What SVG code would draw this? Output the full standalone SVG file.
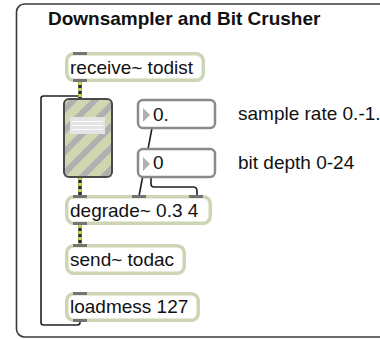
<svg xmlns="http://www.w3.org/2000/svg" width="380" height="339" viewBox="0 0 380 339">
<defs>
<style>
.obj{fill:#fff;stroke:#ccd6b4;stroke-width:3.5}
.num{fill:#fff;stroke:#8a8a8a;stroke-width:2.5}
.t{font-family:"Liberation Sans",Arial,sans-serif;font-size:19px;fill:#111}
.tab{fill:#747474}
.ctl{fill:none;stroke:#222;stroke-width:1.6}
.sig{fill:none;stroke:#2a2a2a;stroke-width:3.5}
.sigd{fill:none;stroke:#b5df45;stroke-width:3.5;stroke-dasharray:3 3}
</style>
<pattern id="hatch" patternUnits="userSpaceOnUse" width="15" height="15" patternTransform="rotate(-45)">
<rect width="15" height="15" fill="#d0d6b0"/>
<rect width="15" height="6" fill="#b0b0b0"/>
</pattern>
</defs>
<rect x="16.5" y="4" width="420" height="333" rx="8" fill="#fff" stroke="#3a3a3a" stroke-width="1.6"/>
<text x="48" y="25" class="t" style="font-weight:bold">Downsampler and Bit Crusher</text>
<g id="connectors">
<path class="ctl" d="M80,322 V322.5 Q80,325 77.5,325 H43.5 Q41,325 41,322.5 V98.5 Q41,96 43.5,96 H77.5 Q80,96 80,98.5 V99"/>
<path class="sig" d="M80,82 V99"/><path class="sigd" d="M80,82 V99"/>
<path class="sig" d="M80,177 V195"/><path class="sigd" d="M80,177 V195"/>
<path class="sig" d="M80,225 V244"/><path class="sigd" d="M80,225 V244"/>
<path class="ctl" d="M152,128 L139,196"/>
<path class="ctl" d="M151,177 V184 Q151,187 154,187 H193 Q197,187 197,191 V196"/>
</g>
<g id="receive">
<rect class="obj" x="66.75" y="53.75" width="136.5" height="26.5" rx="7"/>
<rect class="tab" x="73" y="52" width="14" height="3"/>
<rect class="tab" x="73" y="79" width="14" height="3"/>
<text class="t" x="70" y="74">receive~ todist</text>
</g>
<g id="slider">
<rect x="64" y="99" width="48" height="78" rx="5" fill="url(#hatch)" stroke="#4a4a4a" stroke-width="2"/>
<rect x="70" y="117" width="35" height="17" fill="#e4e4e4"/>
<path d="M72,121.5 H103 M72,125.5 H103 M72,129.5 H103" stroke="#fafafa" stroke-width="1.2"/>
</g>
<g id="num1">
<rect class="num" x="138" y="100" width="77" height="28" rx="5"/>
<path d="M143,108 L150,115 L143,122 Z" fill="#b0b0b0"/>
<text class="t" x="153" y="121">0.</text>
</g>
<g id="num2">
<rect class="num" x="138" y="149" width="77" height="28" rx="5"/>
<path d="M143,157 L150,164 L143,171 Z" fill="#b0b0b0"/>
<text class="t" x="153" y="169">0</text>
</g>
<text class="t" x="238" y="120">sample rate 0.-1.</text>
<text class="t" x="238" y="169">bit depth 0-24</text>
<g id="degrade">
<rect class="obj" x="66.75" y="196.75" width="143.5" height="26.5" rx="7"/>
<rect class="tab" x="73" y="195" width="14" height="3"/>
<rect class="tab" x="132" y="195" width="14" height="3"/>
<rect class="tab" x="189" y="195" width="14" height="3"/>
<rect class="tab" x="73" y="222" width="14" height="3"/>
<text class="t" x="70" y="217">degrade~ 0.3 4</text>
</g>
<g id="send">
<rect class="obj" x="66.75" y="245.75" width="117.5" height="27.5" rx="7"/>
<rect class="tab" x="73" y="244" width="14" height="3"/>
<text class="t" x="70" y="266">send~ todac</text>
</g>
<g id="loadmess">
<rect class="obj" x="66.75" y="293.75" width="131.5" height="26.5" rx="7"/>
<rect class="tab" x="73" y="292" width="14" height="3"/>
<rect class="tab" x="73" y="319" width="14" height="3"/>
<text class="t" x="70" y="313">loadmess 127</text>
</g>
</svg>
